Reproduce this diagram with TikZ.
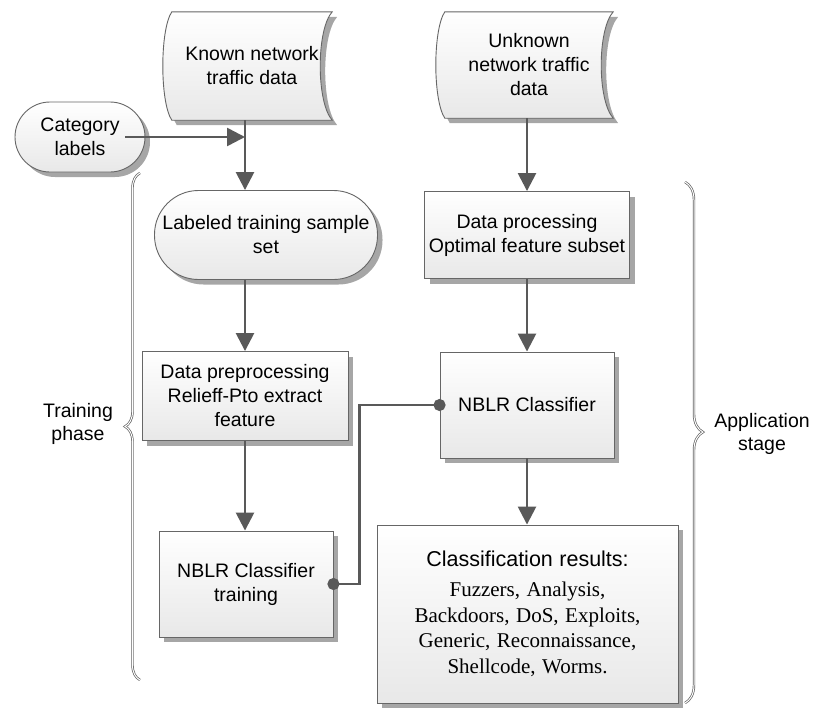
\documentclass[tikz,border=0pt]{standalone}
\usepackage{fontspec}
\setmainfont{Liberation Sans}
\newfontfamily\serifmix{Liberation Serif}
\usetikzlibrary{calc}
\usetikzlibrary{arrows.meta}
\usetikzlibrary{shadows}
\usetikzlibrary{backgrounds}
\usetikzlibrary{decorations.pathreplacing}
\tikzset{
  box/.style= {draw=black!60, line width=0.9pt, top color=white, bottom color=black!9,
    drop shadow={shadow xshift=5pt, shadow yshift=-5pt, fill=black!35, opacity=1},
    inner sep=0pt, align=center, font=\fontsize{19.5}{24}\selectfont},
  pill/.style= {box, rounded corners=#1},
  datatxt/.style= {inner sep=0pt, align=center, font=\fontsize{19.5}{24}\selectfont},
  datashape/.style= {draw=black!60, line width=0.9pt, top color=white, bottom color=black!9,
    drop shadow={shadow xshift=5pt, shadow yshift=-5pt, fill=black!35, opacity=1}},
  flow/.style= {draw=black!65, line width=2.6pt, -{Triangle[length=18pt, width=18pt]}},
  link/.style= {draw=black!65, line width=2.6pt, {Circle[length=12pt]}-{Circle[length=12pt]},
    shorten <=-6pt, shorten >=-6pt},
  phase/.style= {decorate, decoration={brace, amplitude=#1}, draw=black!62,
    line width=0.7pt, double=white, double distance=1pt},
  tag/.style= {align=center, font=\fontsize{19.5}{23}\selectfont},
}

\begin{document}
\begin{tikzpicture}[x=1pt, y=-1pt]
  \useasboundingbox (0,0) rectangle (819,707);

  % inputs
  \node [datatxt, minimum width=160, minimum height=108] (known) at (252,66) {Known network\\traffic data} ;
  \node [datatxt, minimum width=168, minimum height=106] (unknown) at (529,65) {Unknown\\network traffic\\data} ;
  \node [pill=35, minimum width=130, minimum height=70] (cat) at (80,137) {Category\\labels} ;

  % training phase
  \node [pill=44, minimum width=223, minimum height=89] (lab) at (266,235) {Labeled training sample\\set} ;
  \node [box, minimum width=206, minimum height=89] (prep) at (245,396) {Data preprocessing\\Relieff-Pto extract\\feature} ;
  \node [box, minimum width=174, minimum height=106] (train) at (246,584) {NBLR Classifier\\training} ;

  % application stage
  \node [box, minimum width=205, minimum height=87] (proc) at (527,235) {Data processing\\Optimal feature subset} ;
  \node [box, minimum width=174, minimum height=106] (nblr) at (527,405) {NBLR Classifier} ;
  \node [box, minimum width=301, minimum height=178, text width=290] (res) at (527.5,614)
    {{\fontsize{21.5}{26}\selectfont Classification results:\par}\vspace{4pt}
     {\serifmix\fontsize{21}{25.7}\selectfont Fuzzers, Analysis,\\Backdoors, DoS, Exploits,\\Generic, Reconnaissance,\\Shellcode, Worms.\par}\vspace{6pt}} ;

  \begin{scope}[on background layer]
    \foreach \n in {known, unknown}
      \path [datashape] (\n.north west) -- (\n.north east)
        .. controls +(-16,18) and +(-16,-18) .. (\n.south east) -- (\n.south west)
        .. controls +(-12,-18) and +(-12,18) .. (\n.north west) -- cycle ;
  \end{scope}

  \draw [flow] (known.south -| prep.north) -- (lab.north -| prep.north) ;
  \draw [flow] ([xshift=-20pt]cat.east) -- (cat.east -| prep.north) ;
  \draw [flow] (lab.south -| prep.north) -- (prep.north) ;
  \draw [flow] (prep.south) -- (prep.south |- train.north) ;
  \draw [flow] (unknown.south -| proc.north) -- (proc.north) ;
  \draw [flow] (proc.south) -- (nblr.north) ;
  \draw [flow] (nblr.south) -- (nblr.south |- res.north) ;
  \draw [link] (train.east) -- ++(26,0) |- (nblr.west) ;

  % phases
  \draw [phase=15pt] (140,680) -- (140,173) ;
  \node [tag] (trainlbl) at (78,424) {Training\\phase} ;
  \draw [phase=18pt, decoration={aspect=0.48}] (685,182) -- (685,703) ;
  \node [tag] (applbl) at (762,434) {Application\\stage} ;
\end{tikzpicture}
\end{document}
